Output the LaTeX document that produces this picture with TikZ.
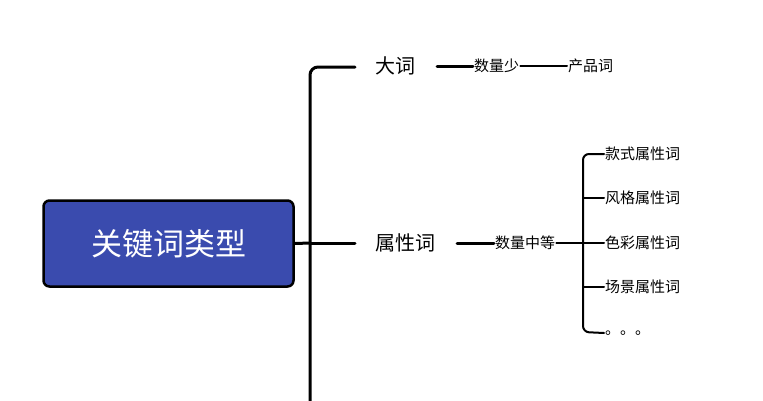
\documentclass[tikz,border=0pt]{standalone}
\usepackage{fontspec}
\setmainfont{Noto Sans CJK SC}
\begin{document}
\begin{tikzpicture}[x=1pt,y=-1pt,
  thick line/.style={line width=3pt,line cap=round},
  thin line/.style={line width=2pt,line cap=round},
  lbl/.style={inner sep=1pt,font=\fontsize{20}{24}\selectfont},
  sm/.style={inner sep=1pt,anchor=west,font=\fontsize{15}{18}\selectfont}]
\useasboundingbox (0,0) rectangle (763,400);
\node[draw=black,line width=2.5pt,fill={rgb,255:red,58;green,75;blue,174},rounded corners=6pt,
  minimum width=250pt,minimum height=86pt,text=white,font=\fontsize{31}{36}\selectfont] (root) at (168.5,243.5) {关键词类型};
\coordinate (j) at (310,243);
\coordinate (bot) at (310,402);
\draw[thick line] (root.east) -- (j);
\node[lbl] (da) at (395,66) {大词};
\node[lbl] (sx) at (405,243) {属性词};
\draw[thick line,rounded corners=8pt] (bot) -- (310,67) -- (355,67);
\draw[thick line] (j) -- (355,243);
\node[sm] (s1) at (473,66) {数量少};
\node[sm] (p1) at (567,66) {产品词};
\draw[thick line] (437,66) -- (s1.west);
\draw[thin line] (s1.east) -- (p1.west);
\node[sm] (s2) at (494,243) {数量中等};
\draw[thick line] (457,243) -- (s2.west);
\coordinate (b) at (583,243);
\draw[thin line] (s2.east) -- (b);
\foreach \t/\y [count=\i] in {款式属性词/154,风格属性词/198,色彩属性词/243,场景属性词/287,。。。/333}{
  \node[sm] (c\i) at (604,\y) {\t};
}
\draw[thin line,rounded corners=6pt] (c1.west) -- (583,154) -- (583,332) -- (c5.west);
\foreach \i in {2,3,4}{\draw[thin line] (583,0|-c\i.west) -- (c\i.west);}
\end{tikzpicture}
\end{document}
